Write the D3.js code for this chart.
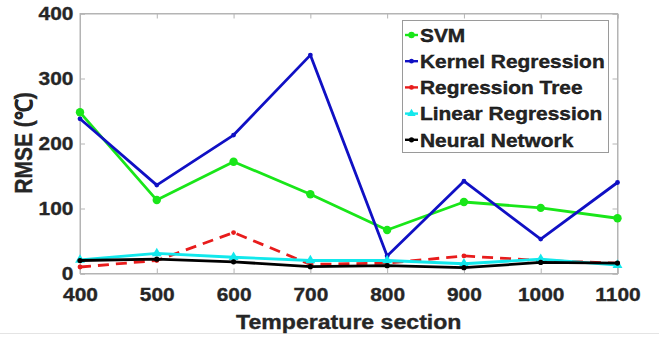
<!DOCTYPE html>
<html>
<head>
<meta charset="utf-8">
<script src="https://cdn.jsdelivr.net/npm/d3@7"></script>
<style>
  html, body { margin: 0; padding: 0; background: #fff; }
  svg { display: block; }
  text { font-family: "Liberation Sans", Arial, sans-serif; font-weight: bold; fill: #262626; }
</style>
</head>
<body>
<svg id="chart" width="659" height="338"></svg>
<script>
// Temperature sections (x axis)
const sections = [400, 500, 600, 700, 800, 900, 1000, 1100];

// RMSE per model for each temperature section
const svm     = [248, 113, 172, 122, 67, 110, 101, 85];
const kernel  = [238, 136, 213, 336, 27, 142, 53, 140];
const tree    = [10, 20, 63, 14, 16, 27, 20, 16];
const linear  = [21, 31, 25, 20, 20, 15, 22, 13];
const neural  = [20, 22, 18, 10.5, 12, 9, 17, 16];

const seriesNames = ["SVM", "Kernel Regression", "Regression Tree", "Linear Regression", "Neural Network"];
const xTicks = [400, 500, 600, 700, 800, 900, 1000, 1100];
const yTicks = [0, 100, 200, 300, 400];

const series = [
  { name: seriesNames[0], values: svm,    color: "#19e619", marker: "circle", r: 4.2, dash: null },
  { name: seriesNames[1], values: kernel, color: "#1010c4", marker: "circle", r: 2.4, dash: null },
  { name: seriesNames[2], values: tree,   color: "#e81c1c", marker: "circle", r: 2.4, dash: "11,7" },
  { name: seriesNames[3], values: linear, color: "#12e8ec", marker: "triangle", r: 4, dash: null },
  { name: seriesNames[4], values: neural, color: "#000000", marker: "circle", r: 2.6, dash: null }
];

const svg = d3.select("#chart");
const plotL = 80, plotR = 617.5, plotT = 13.5, plotB = 273.5;
const sx = 1.1; // horizontal stretch of lettering

const x = d3.scaleLinear().domain([400, 1100]).range([plotL, plotR]);
const y = d3.scaleLinear().domain([0, 400]).range([plotB, plotT]);

// faint rule along the bottom edge
svg.append("line").attr("x1", 0).attr("x2", 659).attr("y1", 333.5).attr("y2", 333.5)
  .attr("stroke", "#e4e4e4").attr("stroke-width", 1);

// plot frame
const axisColor = "#b4b4b4";
svg.append("rect").attr("x", plotL).attr("y", plotT).attr("width", plotR - plotL).attr("height", plotB - plotT)
  .attr("fill", "none").attr("stroke", axisColor).attr("stroke-width", 1);

// axes with inward ticks
const xAxis = svg.append("g").attr("transform", `translate(0,${plotB})`)
  .call(d3.axisBottom(x).tickValues(xTicks).tickSize(-5).tickPadding(14).tickFormat(d3.format("d")));
const yAxis = svg.append("g").attr("transform", `translate(${plotL},0)`)
  .call(d3.axisLeft(y).tickValues(yTicks).tickSize(-5).tickPadding(8).tickFormat(d3.format("d")));
const xTop = svg.append("g").attr("transform", `translate(0,${plotT})`)
  .call(d3.axisTop(x).tickValues(xTicks).tickSize(-5).tickFormat(""));
const yRight = svg.append("g").attr("transform", `translate(${plotR},0)`)
  .call(d3.axisRight(y).tickValues(yTicks).tickSize(-5).tickFormat(""));

[xAxis, yAxis, xTop, yRight].forEach(g => {
  g.select(".domain").attr("stroke", axisColor);
  g.selectAll(".tick line").attr("stroke", axisColor);
});
const styleTickText = sel => sel.attr("font-size", 19).attr("fill", "#262626")
  .attr("stroke", "#262626").attr("stroke-width", 0.35)
  .attr("font-family", "Liberation Sans, Arial, sans-serif").attr("font-weight", "bold")
  .attr("transform", `scale(${sx},1)`);
styleTickText(xAxis.selectAll(".tick text"));
styleTickText(yAxis.selectAll(".tick text")).attr("dy", "0.32em").attr("x", -6);

// axis titles
svg.append("g").attr("transform", `translate(${(plotL + plotR) / 2},${329}) scale(${sx},1)`)
  .append("text").attr("text-anchor", "middle").attr("font-size", 21)
  .attr("stroke", "#262626").attr("stroke-width", 0.35).text("Temperature section");
svg.append("g").attr("transform", `translate(${32},${143}) rotate(-90) scale(1,${sx})`)
  .append("text").attr("text-anchor", "middle").attr("font-size", 21)
  .attr("stroke", "#262626").attr("stroke-width", 0.35).text("RMSE (℃)");

// series lines and markers
const line = d3.line().x((d, i) => x(sections[i])).y(d => y(d));
const tri = d3.symbol().type(d3.symbolTriangle).size(42);

series.forEach(s => {
  const g = svg.append("g");
  g.append("path").datum(s.values).attr("d", line)
    .attr("fill", "none").attr("stroke", s.color).attr("stroke-width", 2.8)
    .attr("stroke-linejoin", "round")
    .attr("stroke-dasharray", s.dash);
  if (s.marker === "circle") {
    g.selectAll("circle").data(s.values).join("circle")
      .attr("cx", (d, i) => x(sections[i])).attr("cy", d => y(d)).attr("r", s.r)
      .attr("fill", s.color);
  } else {
    g.selectAll("path.m").data(s.values).join("path").attr("class", "m")
      .attr("d", tri).attr("transform", (d, i) => `translate(${x(sections[i])},${y(d)})`)
      .attr("fill", s.color);
  }
});

// legend
const lg = svg.append("g");
const lx = 402.5, ly = 20.5, lw = 206, lh = 132, rowH = 26.2, firstRow = 35;
lg.append("rect").attr("x", lx).attr("y", ly).attr("width", lw).attr("height", lh)
  .attr("fill", "#fff").attr("stroke", "#9a9a9a").attr("stroke-width", 1);
series.forEach((s, i) => {
  const cy = firstRow + i * rowH;
  lg.append("line").attr("x1", 405).attr("x2", 418).attr("y1", cy).attr("y2", cy)
    .attr("stroke", s.color).attr("stroke-width", 2.4);
  if (s.marker === "circle") {
    lg.append("circle").attr("cx", 411.5).attr("cy", cy).attr("r", Math.min(s.r, 3.2)).attr("fill", s.color);
  } else {
    lg.append("path").attr("d", d3.symbol().type(d3.symbolTriangle).size(30))
      .attr("transform", `translate(411.5,${cy})`).attr("fill", s.color);
  }
  lg.append("g").attr("transform", `translate(420,${cy}) scale(${sx},1)`)
    .append("text").attr("dy", "0.36em").attr("font-size", 19).attr("fill", "#000")
    .attr("stroke", "#000").attr("stroke-width", 0.35).text(s.name);
});
</script>
</body>
</html>
